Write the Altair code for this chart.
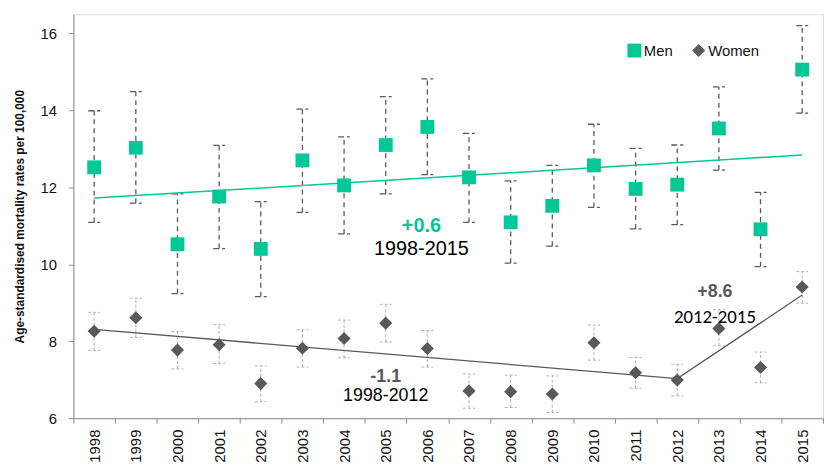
import altair as alt
import pandas as pd

years = [str(y) for y in range(1998, 2016)]
men = [12.52, 13.03, 10.52, 11.76, 10.40, 12.70, 12.05, 13.10, 13.57, 12.26, 11.09, 11.52, 12.57, 11.96, 12.07, 13.53, 10.91, 15.06]
men_lo = [11.09, 11.59, 9.24, 10.41, 9.16, 11.35, 10.79, 11.83, 12.33, 11.09, 10.03, 10.47, 11.48, 10.92, 11.03, 12.45, 9.94, 13.93]
men_hi = [13.99, 14.49, 11.83, 13.09, 11.63, 14.03, 13.31, 14.36, 14.82, 13.40, 12.17, 12.57, 13.64, 13.01, 13.10, 14.61, 11.87, 16.20]
women = [8.26, 8.61, 7.77, 7.91, 6.90, 7.82, 8.07, 8.47, 7.81, 6.71, 6.69, 6.63, 7.96, 7.18, 6.99, 8.33, 7.32, 9.41]
women_lo = [7.76, 8.10, 7.28, 7.42, 6.43, 7.33, 7.57, 7.98, 7.33, 6.26, 6.28, 6.15, 7.51, 6.78, 6.58, 7.88, 6.92, 8.99]
women_hi = [8.75, 9.12, 8.25, 8.43, 7.36, 8.30, 8.55, 8.96, 8.28, 7.15, 7.12, 7.10, 8.42, 7.58, 7.40, 8.82, 7.72, 9.81]

men_trend_years = ["1998", "2015"]
men_trend_vals = [11.72, 12.84]
women_trend_years = ["1998", "2012", "2015"]
women_trend_vals = [8.31, 7.03, 9.20]

ann_text = ["+0.6", "1998-2015", "-1.1", "1998-2012", "+8.6", "2012-2015"]
ann_year = ["2005", "2005", "2005", "2005", "2013", "2013"]
ann_val = [11.0, 10.39, 7.08, 6.57, 9.28, 8.63]

GREEN = "#00C896"
DARK = "#595959"

series = ["Men", "Women"]

pts = pd.DataFrame({
    "year": years * 2,
    "sex": ["Men"] * 18 + ["Women"] * 18,
    "val": men + women,
    "lo": men_lo + women_lo,
    "hi": men_hi + women_hi,
})
men_df = pts[pts.sex == "Men"]
women_df = pts[pts.sex == "Women"]

xenc = alt.X("year:O", title=None, sort=years,
             axis=alt.Axis(labelAngle=270, tickBand="extent", labelPadding=6,
                           labelFontSize=15, labelColor="#111", domainColor="#8c8c8c",
                           tickColor="#8c8c8c", tickSize=5, labelFont="Liberation Sans"),
             scale=alt.Scale(paddingInner=0, paddingOuter=0))
yscale = alt.Scale(domain=[6, 16.5], nice=False, zero=False)
yaxis = alt.Axis(values=[6, 8, 10, 12, 14, 16], grid=False, labelFontSize=15,
                 labelColor="#111", labelPadding=12, tickSize=5, domainColor="#8c8c8c",
                 tickColor="#8c8c8c", title="Age-standardised mortality rates per 100,000",
                 titleFontSize=12, titleFontWeight="bold", titleFont="Liberation Sans",
                 labelFont="Liberation Sans", titleColor="#111", titlePadding=14)

base_y = alt.Y("lo:Q", scale=yscale, axis=yaxis)

men_err = alt.Chart(men_df).mark_rule(color=DARK, strokeDash=[5, 4], strokeWidth=1.3).encode(
    x=xenc, y=base_y, y2="hi:Q")
men_cap_hi = alt.Chart(men_df).mark_rule(color=DARK, strokeDash=[6, 3], strokeWidth=1.3,
                                          xOffset=-6, x2Offset=6).encode(
    x=xenc, x2="year:O", y=alt.Y("hi:Q", scale=yscale, axis=yaxis))
men_cap_lo = alt.Chart(men_df).mark_rule(color=DARK, strokeDash=[6, 3], strokeWidth=1.3,
                                          xOffset=-6, x2Offset=6).encode(
    x=xenc, x2="year:O", y=alt.Y("lo:Q", scale=yscale, axis=yaxis))

LIGHT = "#b0b0b0"
women_err = alt.Chart(women_df).mark_rule(color=LIGHT, strokeDash=[3, 2], strokeWidth=1).encode(
    x=xenc, y=base_y, y2="hi:Q")
women_cap_hi = alt.Chart(women_df).mark_rule(color=LIGHT, strokeDash=[3, 2], strokeWidth=1,
                                              xOffset=-6, x2Offset=6).encode(
    x=xenc, x2="year:O", y=alt.Y("hi:Q", scale=yscale, axis=yaxis))
women_cap_lo = alt.Chart(women_df).mark_rule(color=LIGHT, strokeDash=[3, 2], strokeWidth=1,
                                              xOffset=-6, x2Offset=6).encode(
    x=xenc, x2="year:O", y=alt.Y("lo:Q", scale=yscale, axis=yaxis))

men_tr = alt.Chart(pd.DataFrame({"year": men_trend_years, "v": men_trend_vals})).mark_line(
    color=GREEN, strokeWidth=1.5).encode(x=xenc, y=alt.Y("v:Q", scale=yscale, axis=yaxis))
women_tr = alt.Chart(pd.DataFrame({"year": women_trend_years, "v": women_trend_vals})).mark_line(
    color=DARK, strokeWidth=1.3).encode(x=xenc, y=alt.Y("v:Q", scale=yscale, axis=yaxis))

markers = alt.Chart(pts).mark_point(filled=True, opacity=1, strokeWidth=0).encode(
    x=xenc,
    y=alt.Y("val:Q", scale=yscale, axis=yaxis),
    color=alt.Color("sex:N", scale=alt.Scale(domain=series, range=[GREEN, DARK]),
                    legend=alt.Legend(title=None, orient="none", legendX=559, legendY=29,
                                      direction="horizontal", symbolSize=90,
                                      labelFontSize=15, labelFont="Liberation Sans",
                                      labelColor="#111", columnPadding=18, padding=0,
                                      symbolStrokeWidth=0, labelOffset=2)),
    shape=alt.Shape("sex:N", scale=alt.Scale(domain=series, range=["square", "diamond"])),
    size=alt.Size("sex:N", scale=alt.Scale(domain=series, range=[196, 175]), legend=None),
)

ann = pd.DataFrame({"t": ann_text, "year": ann_year, "v": ann_val})
def txt(i, color, size, bold, dx, font="Liberation Sans"):
    return alt.Chart(ann.iloc[[i]]).mark_text(
        color=color, fontSize=size, fontWeight="bold" if bold else "normal",
        font=font, dx=dx, align="center", baseline="middle").encode(
        x=xenc, y=alt.Y("v:Q", scale=yscale, axis=yaxis), text="t:N")

texts = [
    txt(0, GREEN, 20, True, 36),
    txt(1, "#000", 20, False, 36),
    txt(2, DARK, 18, True, 0),
    txt(3, "#000", 18, False, 0),
    txt(4, DARK, 18, True, -4),
    txt(5, "#000", 19, False, -4, font="Carlito, Lato"),
]

chart = alt.layer(
    men_err, men_cap_hi, men_cap_lo, women_err, women_cap_hi, women_cap_lo,
    men_tr, women_tr, markers, *texts
).properties(
    width=757, height=408,
    padding={"top": 4, "left": 5, "right": 0, "bottom": 0},
).configure_view(stroke=None).configure(background="white")

chart.save("out.html", embed_options={"renderer": "svg", "actions": False})
